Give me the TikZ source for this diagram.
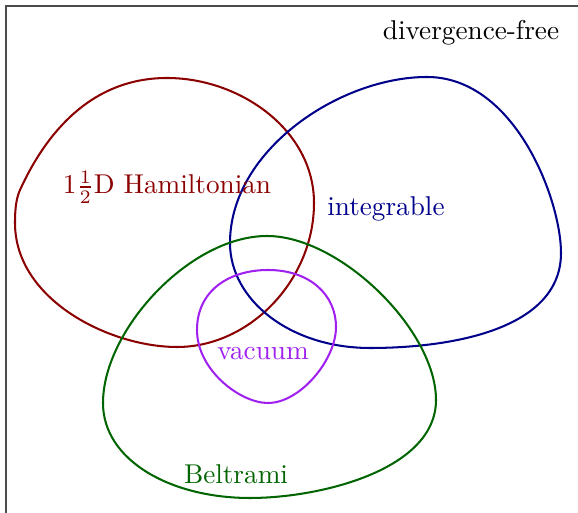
\documentclass[tikz,border=0pt]{standalone}
\definecolor{hred}{RGB}{139,0,0}
\definecolor{iblue}{RGB}{0,0,139}
\definecolor{bgreen}{RGB}{0,100,0}
\definecolor{vpurple}{RGB}{160,32,240}
\tikzset{
  setline/.style={line width=0.75pt},
  setlabel/.style={inner sep=0pt, anchor=center},
}
\begin{document}
\begin{tikzpicture}[x=0.3676pt, y=-0.3676pt]
\useasboundingbox (0,0) rectangle (578,513);
% frame (only left and top edges visible)
\draw[line width=0.4pt, black!70] (6,530) -- (6,6) -- (600,6);
% 1.5D Hamiltonian
\draw[setline, hred] (167,78) .. controls (240,78) and (314,130) .. (314,203)
  .. controls (314,280) and (250,347) .. (177,347)
  .. controls (110,347) and (15,300) .. (15,223)
  .. controls (15,205) and (17,197) .. (20,190)
  .. controls (45,135) and (90,78) .. cycle;
% integrable
\draw[setline, iblue] (427,77) .. controls (515,77) and (561,200) .. (561,253)
  .. controls (561,330) and (450,348) .. (370,348)
  .. controls (290,348) and (230,300) .. (230,243)
  .. controls (230,150) and (340,77) .. cycle;
% Beltrami
\draw[setline, bgreen] (267,236) .. controls (340,236) and (436,330) .. (436,400)
  .. controls (436,470) and (320,498) .. (250,498)
  .. controls (170,498) and (103,460) .. (103,403)
  .. controls (103,330) and (190,236) .. cycle;
% vacuum
\draw[setline, vpurple] (268,270) .. controls (310,270) and (336,295) .. (336,327)
  .. controls (336,360) and (300,403) .. (268,403)
  .. controls (240,403) and (197,370) .. (197,330)
  .. controls (197,290) and (230,270) .. cycle;
% labels
\node[setlabel] (div) at (471,33) {divergence-free};
\node[setlabel, text=hred] (ham) at (167,187) {$1\frac{1}{2}$D Hamiltonian};
\node[setlabel, text=iblue] (int) at (386,209) {integrable};
\node[setlabel, text=vpurple] (vac) at (263,354) {vacuum};
\node[setlabel, text=bgreen] (bel) at (236,474) {Beltrami};
\end{tikzpicture}
\end{document}
